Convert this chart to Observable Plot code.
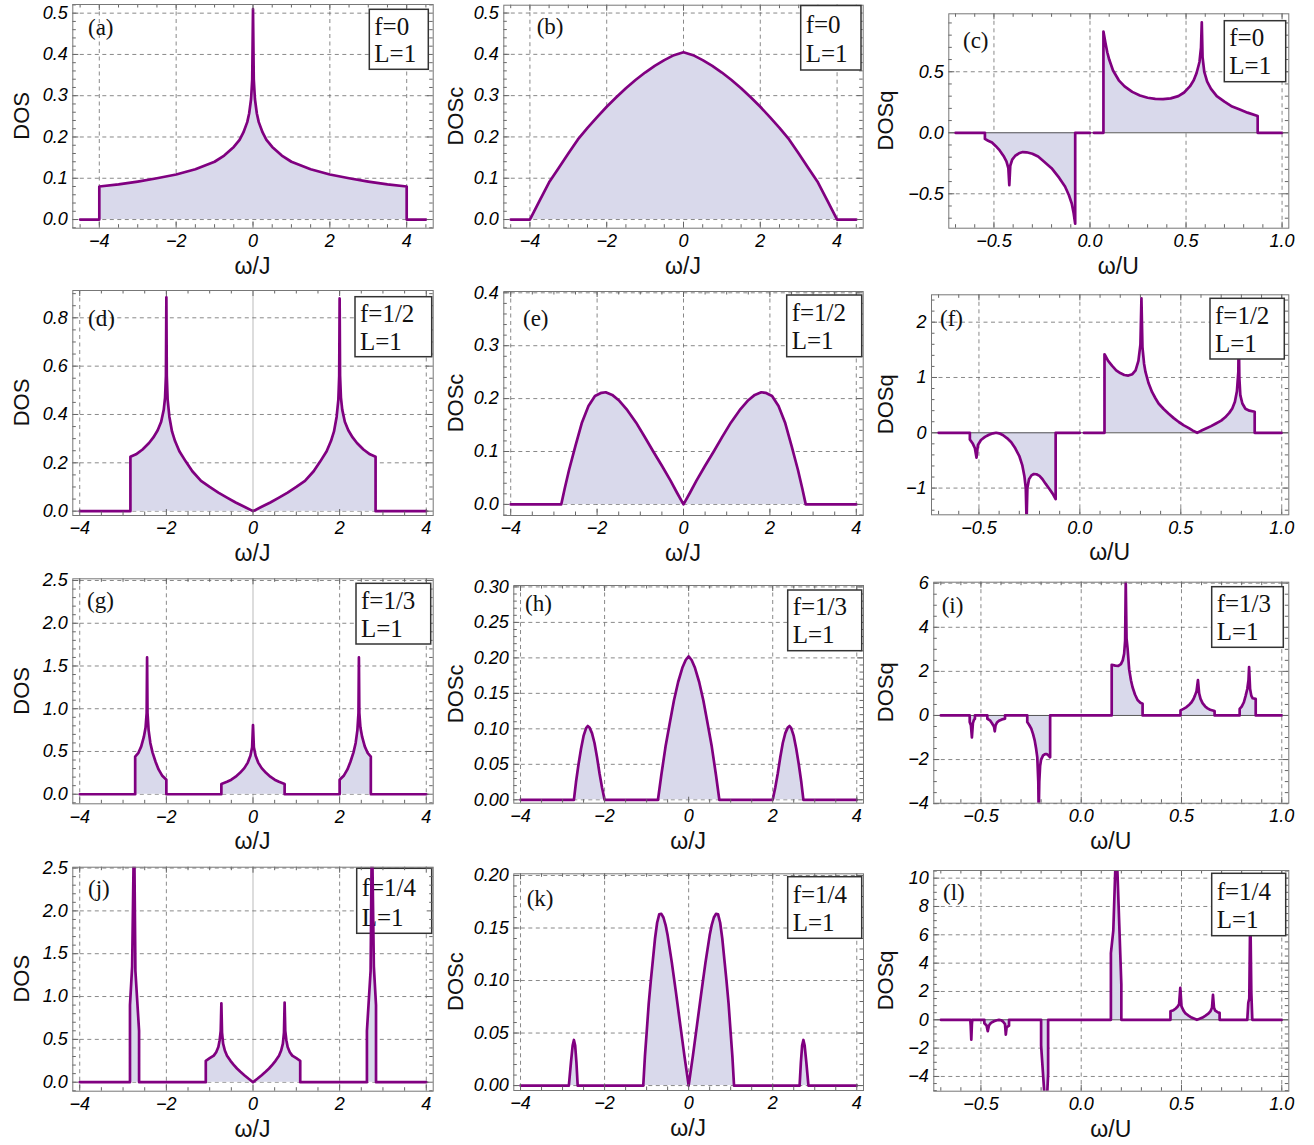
<!DOCTYPE html>
<html><head><meta charset="utf-8">
<script src="https://cdn.jsdelivr.net/npm/d3@7"></script>
<script src="https://cdn.jsdelivr.net/npm/@observablehq/plot@0.6"></script>
<style>
body{margin:0;background:#fff;}
#root{position:relative;width:1314px;height:1145px;background:#fff;overflow:hidden;}
#root svg{position:absolute;}
#root svg [aria-label$="tick label"] text{font-style:italic;fill:#000;}
</style></head><body><div id="root"></div>
<script>
// ---------- data: [omega, value] ----------
const dosA = [[-4.5,0],[-4,0],[-4,0.080],[-3.5,0.085],[-3,0.092],[-2.5,0.100],[-2,0.109],[-1.5,0.122],[-1,0.140],[-0.75,0.155],[-0.5,0.176],[-0.35,0.193],[-0.25,0.211],[-0.15,0.236],[-0.1,0.257],[-0.05,0.292],[-0.02,0.34],[0,0.51],[0.02,0.34],[0.05,0.292],[0.1,0.257],[0.15,0.236],[0.25,0.211],[0.35,0.193],[0.5,0.176],[0.75,0.155],[1,0.140],[1.5,0.122],[2,0.109],[2.5,0.100],[3,0.092],[3.5,0.085],[4,0.080],[4,0],[4.5,0]];
const dosB = [[-4.5,0],[-4,0],[-3.75,0.045],[-3.5,0.09],[-3.25,0.125],[-3,0.16],[-2.75,0.194],[-2.5,0.222],[-2.25,0.248],[-2,0.273],[-1.75,0.296],[-1.5,0.318],[-1.25,0.338],[-1,0.356],[-0.75,0.372],[-0.5,0.386],[-0.25,0.398],[0,0.405],[0.25,0.398],[0.5,0.386],[0.75,0.372],[1,0.356],[1.25,0.338],[1.5,0.318],[1.75,0.296],[2,0.273],[2.25,0.248],[2.5,0.222],[2.75,0.194],[3,0.16],[3.25,0.125],[3.5,0.09],[3.75,0.045],[4,0],[4.5,0]];
const dosC = [[-0.70,0],[-0.547,0],[-0.547,-0.05],[-0.53,-0.065],[-0.51,-0.08],[-0.49,-0.11],[-0.47,-0.145],[-0.45,-0.19],[-0.435,-0.235],[-0.425,-0.29],[-0.42,-0.43],[-0.415,-0.27],[-0.405,-0.22],[-0.39,-0.19],[-0.37,-0.168],[-0.35,-0.158],[-0.33,-0.16],[-0.30,-0.172],[-0.27,-0.195],[-0.24,-0.235],[-0.20,-0.29],[-0.16,-0.37],[-0.13,-0.44],[-0.11,-0.51],[-0.095,-0.58],[-0.085,-0.66],[-0.077,-0.745],[-0.077,0],[0,0],[0,NaN],[0.02,0],[0.07,0],[0.07,0.83],[0.08,0.74],[0.09,0.66],[0.10,0.6],[0.12,0.51],[0.15,0.43],[0.18,0.38],[0.22,0.335],[0.26,0.305],[0.30,0.287],[0.34,0.278],[0.38,0.276],[0.42,0.282],[0.46,0.3],[0.49,0.33],[0.52,0.38],[0.54,0.43],[0.555,0.49],[0.57,0.58],[0.578,0.7],[0.582,0.905],[0.586,0.62],[0.595,0.5],[0.61,0.42],[0.63,0.36],[0.66,0.3],[0.70,0.255],[0.74,0.215],[0.78,0.19],[0.82,0.165],[0.873,0.137],[0.873,0],[1.0,0]];
const dosD = [[-4,0],[-2.83,0],[-2.83,0.225],[-2.7,0.235],[-2.55,0.255],[-2.4,0.282],[-2.3,0.305],[-2.2,0.335],[-2.12,0.37],[-2.06,0.42],[-2.03,0.47],[-2.01,0.56],[-2,0.885],[-1.99,0.56],[-1.97,0.46],[-1.93,0.39],[-1.87,0.33],[-1.8,0.29],[-1.7,0.248],[-1.55,0.205],[-1.4,0.165],[-1.2,0.125],[-1,0.1],[-0.8,0.077],[-0.6,0.056],[-0.4,0.036],[-0.2,0.018],[0,0],[0.2,0.018],[0.4,0.036],[0.6,0.056],[0.8,0.077],[1,0.1],[1.2,0.125],[1.4,0.165],[1.55,0.205],[1.7,0.248],[1.8,0.29],[1.87,0.33],[1.93,0.39],[1.97,0.46],[1.99,0.56],[2,0.88],[2.01,0.56],[2.03,0.47],[2.06,0.42],[2.12,0.37],[2.2,0.335],[2.3,0.305],[2.4,0.282],[2.55,0.255],[2.7,0.235],[2.83,0.225],[2.83,0],[4,0]];
const dosE = [[-4,0],[-2.83,0],[-2.75,0.03],[-2.65,0.065],[-2.5,0.111],[-2.35,0.155],[-2.2,0.186],[-2.05,0.205],[-1.9,0.211],[-1.8,0.212],[-1.65,0.207],[-1.5,0.197],[-1.3,0.178],[-1.1,0.155],[-0.9,0.128],[-0.7,0.1],[-0.5,0.073],[-0.3,0.045],[-0.15,0.022],[0,0],[0.15,0.022],[0.3,0.045],[0.5,0.073],[0.7,0.1],[0.9,0.128],[1.1,0.155],[1.3,0.178],[1.5,0.197],[1.65,0.207],[1.8,0.212],[1.9,0.211],[2.05,0.205],[2.2,0.186],[2.35,0.155],[2.5,0.111],[2.65,0.065],[2.75,0.03],[2.83,0],[4,0]];
const dosF = [[-0.70,0],[-0.545,0],[-0.545,-0.12],[-0.53,-0.2],[-0.52,-0.28],[-0.512,-0.45],[-0.505,-0.22],[-0.49,-0.13],[-0.47,-0.075],[-0.45,-0.035],[-0.43,-0.01],[-0.415,0],[-0.40,-0.01],[-0.38,-0.045],[-0.36,-0.1],[-0.34,-0.17],[-0.32,-0.28],[-0.30,-0.42],[-0.285,-0.59],[-0.275,-0.78],[-0.268,-1.0],[-0.264,-1.6],[-0.26,-1.0],[-0.252,-0.84],[-0.24,-0.77],[-0.228,-0.745],[-0.215,-0.75],[-0.2,-0.78],[-0.185,-0.84],[-0.17,-0.92],[-0.15,-1.02],[-0.135,-1.1],[-0.12,-1.2],[-0.12,0],[0,0],[0,NaN],[0.02,0],[0.122,0],[0.122,1.42],[0.14,1.3],[0.16,1.21],[0.18,1.13],[0.2,1.08],[0.22,1.045],[0.24,1.035],[0.26,1.06],[0.276,1.13],[0.29,1.3],[0.3,1.6],[0.305,2.43],[0.31,1.55],[0.318,1.25],[0.325,1.1],[0.34,0.9],[0.358,0.735],[0.375,0.62],[0.39,0.53],[0.415,0.43],[0.44,0.345],[0.465,0.265],[0.49,0.195],[0.515,0.135],[0.54,0.084],[0.56,0.04],[0.581,0],[0.6,0.035],[0.622,0.072],[0.65,0.12],[0.672,0.163],[0.7,0.22],[0.72,0.28],[0.74,0.36],[0.755,0.44],[0.768,0.56],[0.778,0.75],[0.785,1.1],[0.787,1.9],[0.79,1.0],[0.795,0.675],[0.805,0.53],[0.82,0.434],[0.84,0.4],[0.866,0.38],[0.866,0],[1.0,0]];
const dosG = [[-4,0],[-2.72,0],[-2.72,0.44],[-2.65,0.48],[-2.58,0.56],[-2.52,0.67],[-2.48,0.78],[-2.455,0.95],[-2.445,1.6],[-2.435,0.95],[-2.41,0.75],[-2.37,0.6],[-2.32,0.49],[-2.25,0.38],[-2.18,0.29],[-2.1,0.22],[-2,0.17],[-2,0],[-0.73,0],[-0.73,0.12],[-0.6,0.145],[-0.5,0.17],[-0.4,0.205],[-0.3,0.25],[-0.2,0.305],[-0.12,0.37],[-0.06,0.45],[-0.02,0.55],[0,0.81],[0.02,0.55],[0.06,0.45],[0.12,0.37],[0.2,0.305],[0.3,0.25],[0.4,0.205],[0.5,0.17],[0.6,0.145],[0.73,0.12],[0.73,0],[2,0],[2,0.17],[2.1,0.22],[2.18,0.29],[2.25,0.38],[2.32,0.49],[2.37,0.6],[2.41,0.75],[2.435,0.95],[2.445,1.6],[2.455,0.95],[2.48,0.78],[2.52,0.67],[2.58,0.56],[2.65,0.48],[2.72,0.44],[2.72,0],[4,0]];
const dosH = [[-4,0],[-2.73,0],[-2.68,0.025],[-2.62,0.05],[-2.56,0.072],[-2.5,0.09],[-2.44,0.101],[-2.4,0.104],[-2.36,0.102],[-2.3,0.094],[-2.24,0.08],[-2.18,0.06],[-2.12,0.037],[-2.06,0.017],[-2,0],[-0.73,0],[-0.65,0.035],[-0.55,0.075],[-0.45,0.108],[-0.35,0.14],[-0.25,0.166],[-0.15,0.186],[-0.07,0.197],[0,0.202],[0.07,0.197],[0.15,0.186],[0.25,0.166],[0.35,0.14],[0.45,0.108],[0.55,0.075],[0.65,0.035],[0.73,0],[2,0],[2.06,0.017],[2.12,0.037],[2.18,0.06],[2.24,0.08],[2.3,0.094],[2.36,0.102],[2.4,0.104],[2.44,0.101],[2.5,0.09],[2.56,0.072],[2.62,0.05],[2.68,0.025],[2.73,0],[4,0]];
const dosI = [[-0.70,0],[-0.556,0],[-0.556,-0.3],[-0.55,-0.45],[-0.545,-1.0],[-0.54,-0.35],[-0.535,-0.2],[-0.53,-0.15],[-0.53,0],[-0.468,0],[-0.468,-0.15],[-0.455,-0.22],[-0.445,-0.35],[-0.435,-0.5],[-0.431,-0.72],[-0.427,-0.45],[-0.42,-0.32],[-0.41,-0.24],[-0.395,-0.18],[-0.38,-0.15],[-0.38,0],[-0.269,0],[-0.269,-0.3],[-0.26,-0.42],[-0.249,-0.6],[-0.24,-0.85],[-0.232,-1.13],[-0.225,-1.5],[-0.219,-1.9],[-0.214,-3],[-0.212,-4.5],[-0.209,-3],[-0.205,-2.3],[-0.2,-2.0],[-0.19,-1.81],[-0.18,-1.75],[-0.172,-1.75],[-0.163,-1.82],[-0.155,-1.9],[-0.155,0],[0.152,0],[0.152,2.3],[0.17,2.26],[0.185,2.25],[0.198,2.33],[0.207,2.5],[0.214,2.8],[0.219,3.4],[0.222,6.1],[0.226,3.5],[0.231,3.05],[0.239,2.1],[0.248,1.6],[0.256,1.28],[0.268,0.95],[0.281,0.7],[0.295,0.58],[0.306,0.53],[0.306,0],[0.495,0],[0.495,0.23],[0.51,0.3],[0.525,0.38],[0.54,0.5],[0.55,0.6],[0.56,0.75],[0.567,0.9],[0.575,1.1],[0.582,1.6],[0.588,1.0],[0.595,0.75],[0.605,0.56],[0.618,0.41],[0.63,0.32],[0.643,0.26],[0.665,0.2],[0.665,0],[0.79,0],[0.79,0.3],[0.8,0.4],[0.811,0.6],[0.82,0.9],[0.828,1.2],[0.834,1.6],[0.837,2.19],[0.842,1.2],[0.848,0.9],[0.855,0.78],[0.87,0.75],[0.87,0],[1.0,0]];
const dosJ = [[-4,0],[-2.84,0],[-2.84,0.9],[-2.79,1.35],[-2.745,3],[-2.715,1.3],[-2.63,0.6],[-2.63,0],[-1.09,0],[-1.09,0.25],[-1,0.28],[-0.906,0.31],[-0.85,0.35],[-0.8,0.41],[-0.77,0.49],[-0.745,0.6],[-0.73,0.92],[-0.715,0.58],[-0.69,0.45],[-0.65,0.37],[-0.6,0.31],[-0.52,0.25],[-0.45,0.205],[-0.37,0.16],[-0.29,0.122],[-0.2,0.082],[-0.1,0.04],[0,0],[0.1,0.04],[0.2,0.082],[0.29,0.122],[0.37,0.16],[0.45,0.205],[0.52,0.25],[0.6,0.31],[0.65,0.37],[0.69,0.45],[0.715,0.58],[0.73,0.93],[0.745,0.6],[0.77,0.49],[0.8,0.41],[0.85,0.35],[0.906,0.31],[1,0.28],[1.09,0.25],[1.09,0],[2.63,0],[2.63,0.6],[2.715,1.3],[2.745,3],[2.79,1.35],[2.84,0.9],[2.84,0],[4,0]];
const dosK = [[-4,0],[-2.85,0],[-2.8,0.022],[-2.76,0.038],[-2.73,0.0434],[-2.7,0.038],[-2.67,0.022],[-2.64,0],[-1.08,0],[-1.04,0.028],[-1,0.05],[-0.95,0.078],[-0.9,0.1],[-0.85,0.12],[-0.8,0.14],[-0.75,0.155],[-0.7,0.163],[-0.65,0.1635],[-0.6,0.16],[-0.55,0.153],[-0.5,0.143],[-0.4,0.117],[-0.3,0.088],[-0.2,0.058],[-0.1,0.028],[0,0],[0.1,0.028],[0.2,0.058],[0.3,0.088],[0.4,0.117],[0.5,0.143],[0.55,0.153],[0.6,0.16],[0.65,0.1635],[0.7,0.163],[0.75,0.155],[0.8,0.14],[0.85,0.12],[0.9,0.1],[0.95,0.078],[1,0.05],[1.04,0.028],[1.08,0],[2.64,0],[2.67,0.022],[2.7,0.038],[2.73,0.0434],[2.76,0.038],[2.8,0.022],[2.85,0],[4,0]];
const dosL = [[-0.70,0],[-0.553,0],[-0.551,-0.4],[-0.548,-1.4],[-0.545,-0.3],[-0.543,0],[-0.483,0],[-0.483,-0.25],[-0.472,-0.4],[-0.466,-0.8],[-0.46,-0.4],[-0.45,-0.22],[-0.435,-0.1],[-0.42,-0.03],[-0.41,0],[-0.4,-0.03],[-0.39,-0.12],[-0.38,-0.3],[-0.376,-1.05],[-0.372,-0.55],[-0.365,-0.45],[-0.36,-0.42],[-0.36,0],[-0.2,0],[-0.2,-1.8],[-0.18,-6.0],[-0.172,-6.0],[-0.165,-3.8],[-0.165,0],[0.148,0],[0.148,4.7],[0.16,6.3],[0.172,11.5],[0.178,11.5],[0.2,2.5],[0.2,0],[0.445,0],[0.445,0.6],[0.46,0.68],[0.47,0.78],[0.48,0.92],[0.488,1.1],[0.494,2.26],[0.5,0.95],[0.51,0.65],[0.52,0.45],[0.535,0.3],[0.55,0.16],[0.565,0.07],[0.577,0],[0.59,0.07],[0.605,0.16],[0.62,0.3],[0.635,0.45],[0.645,0.62],[0.652,0.85],[0.657,1.76],[0.662,0.85],[0.668,0.65],[0.68,0.54],[0.69,0.49],[0.69,0],[0.828,0],[0.833,1.2],[0.838,1.5],[0.843,8.0],[0.848,2.0],[0.853,0],[1.0,0]];

// ---------- tick values and labels ----------
const ticksJ = [-4, -2, 0, 2, 4];
const ticksU = [-0.5, 0, 0.5, 1.0];
const yTicksA = [0, 0.1, 0.2, 0.3, 0.4, 0.5];
const yTicksC = [-0.5, 0, 0.5];
const yTicksD = [0, 0.2, 0.4, 0.6, 0.8];
const yTicksE = [0, 0.1, 0.2, 0.3, 0.4];
const yTicksF = [-1, 0, 1, 2];
const yTicksG = [0, 0.5, 1.0, 1.5, 2.0, 2.5];
const yTicksH = [0, 0.05, 0.10, 0.15, 0.20, 0.25, 0.30];
const yTicksI = [-4, -2, 0, 2, 4, 6];
const yTicksK = [0, 0.05, 0.10, 0.15, 0.20];
const yTicksL = [-4, -2, 0, 2, 4, 6, 8, 10];
const yLabels = ["DOS", "DOSc", "DOSq"];
const xLabels = ["ω/J", "ω/J", "ω/U"];
const fLabels = ["f=0", "f=1/2", "f=1/3", "f=1/4"];
const lLabel = "L=1";
const letters = ["a","b","c","d","e","f","g","h","i","j","k","l"];

const f1 = d3.format(".1f"), f2 = d3.format(".2f"), fd = d3.format("d");
function minors(lo, hi, step, majors) {
  return d3.range(Math.round(lo/step), Math.round(hi/step) + 1).map(i => +(i*step).toFixed(4))
    .filter(v => !majors.some(m => Math.abs(m - v) < 1e-9));
}

// ---------- layout (page coordinates) ----------
const colSlice = [[0, 436], [436, 866], [866, 1300]];
const rowSlice = [[0, 282], [282, 568], [568, 853], [853, 1145]];
const yLabelX = [21, 455, 885];

const panels = [
  {data: dosA, frame:[72.3,4,432.7,227.7], xd:[-4.69,4.69], yd:[-0.021,0.521], xt:ticksJ, yt:yTicksA, xf:fd, yf:f1, ym:0.02, xm:0.5, q:false, let:[88,27], box:[369.3,9.3,428.3,69.3]},
  {data: dosB, frame:[503.3,4.7,862.7,227.7], xd:[-4.68,4.68], yd:[-0.021,0.519], xt:ticksJ, yt:yTicksA, xf:fd, yf:f1, ym:0.02, xm:0.5, q:false, let:[536.7,26], box:[800.7,5.5,861,70]},
  {data: dosC, frame:[948.3,13.3,1288.3,227.7], xd:[-0.735,1.035], yd:[-0.782,0.975], xt:ticksU, yt:yTicksC, xf:f1, yf:f1, ym:0.1, xm:0.1, q:true, let:[963,40], box:[1224.3,20.7,1285.7,81.7]},
  {data: dosD, frame:[72.3,290,432.7,515], xd:[-4.16,4.16], yd:[-0.018,0.913], xt:ticksJ, yt:yTicksD, xf:fd, yf:f1, ym:0.05, xm:0.5, q:false, let:[88,318], box:[355,296.7,431.7,356.7], axisLine:true},
  {data: dosE, frame:[503.3,291,862.7,515], xd:[-4.16,4.16], yd:[-0.021,0.4025], xt:ticksJ, yt:yTicksE, xf:fd, yf:f1, ym:0.02, xm:0.5, q:false, let:[523,318], box:[786.7,295,861.7,356.7]},
  {data: dosF, frame:[931,294.3,1288.3,514.3], xd:[-0.735,1.035], yd:[-1.483,2.495], xt:ticksU, yt:yTicksF, xf:f1, yf:fd, ym:0.2, xm:0.1, q:true, let:[940,318], box:[1210,298.3,1284.3,359]},
  {data: dosG, frame:[72.3,578.3,432.7,803.3], xd:[-4.16,4.16], yd:[-0.112,2.52], xt:ticksJ, yt:yTicksG, xf:fd, yf:f1, ym:0.1, xm:0.5, q:false, let:[87,600], box:[356,583.3,430.7,644], axisLine:true},
  {data: dosH, frame:[513.3,585,863,802.7], xd:[-4.16,4.16], yd:[-0.0048,0.302], xt:ticksJ, yt:yTicksH, xf:fd, yf:f2, ym:0.01, xm:0.5, q:false, let:[525,603], box:[787.7,590,861.7,650.7]},
  {data: dosI, frame:[933.3,581.7,1288.3,802.7], xd:[-0.735,1.035], yd:[-3.98,6.045], xt:ticksU, yt:yTicksI, xf:f1, yf:fd, ym:0.5, xm:0.1, q:true, let:[941.7,605], box:[1211.7,586.7,1283.3,647.3]},
  {data: dosJ, frame:[72.3,866.7,432.7,1090.7], xd:[-4.16,4.16], yd:[-0.105,2.51], xt:ticksJ, yt:yTicksG, xf:fd, yf:f1, ym:0.1, xm:0.5, q:false, let:[88,888], box:[356.7,868.3,431.7,933.3], lineOverBox:true, axisLine:true},
  {data: dosK, frame:[513.3,873.3,863,1090], xd:[-4.16,4.16], yd:[-0.0047,0.2016], xt:ticksJ, yt:yTicksK, xf:fd, yf:f2, ym:0.01, xm:0.5, q:false, let:[526.7,898], box:[787.7,876.7,861.7,938.3]},
  {data: dosL, frame:[933.3,870,1288.3,1090.7], xd:[-0.735,1.035], yd:[-5.04,10.54], xt:ticksU, yt:yTicksL, xf:f1, yf:fd, ym:0.5, xm:0.1, q:true, let:[943,892], box:[1211.7,873.3,1285.7,935.7]}
];

const root = document.getElementById("root");
const SANS = "'Liberation Sans', Arial, Helvetica, sans-serif";
const SERIF = "'Liberation Serif', 'Times New Roman', serif";
const PURPLE = "#800080", FILL = "#d9d9eb", TICK = "#666", GRID = "#5a5a5a";

panels.forEach((p, i) => {
  const row = Math.floor(i / 3), col = i % 3;
  const [sx0, sx1] = colSlice[col], [sy0, sy1] = rowSlice[row];
  const [fx0, fy0, fx1, fy1] = p.frame;
  const W = sx1 - sx0, H = sy1 - sy0, fw = fx1 - fx0, fh = fy1 - fy0;
  const data = p.data.map(([x, y]) => ({x, y}));
  const xMin = minors(p.xd[0], p.xd[1], p.xm, p.xt).filter(v => v > p.xd[0] && v < p.xd[1]);
  const yMin = minors(p.yd[0], p.yd[1], p.ym, p.yt).filter(v => v > p.yd[0] && v < p.yd[1]);
  const yGrid = p.q ? p.yt.filter(v => v !== 0) : p.yt;
  const xGrid = p.axisLine ? p.xt.filter(v => v !== 0) : p.xt;
  const svg = Plot.plot({
    width: W, height: H,
    marginLeft: fx0 - sx0, marginRight: sx1 - fx1, marginTop: fy0 - sy0, marginBottom: sy1 - fy1,
    style: {fontFamily: SANS, fontSize: "18px", fontStyle: "italic", background: "transparent", overflow: "visible", color: "#000"},
    x: {domain: p.xd},
    y: {domain: p.yd},
    marks: [
      ...(p.axisLine ? [Plot.ruleX([0], {stroke: "#bbb", strokeWidth: 1})] : []),
      Plot.gridX(xGrid, {stroke: GRID, strokeOpacity: 0.8, strokeDasharray: "4,3.5", strokeWidth: 0.9}),
      Plot.gridY(yGrid, {stroke: GRID, strokeOpacity: 0.8, strokeDasharray: "4,3.5", strokeWidth: 0.9}),
      Plot.areaY(data, {x: "x", y: "y", fill: FILL, clip: true}),
      ...(p.q ? [Plot.ruleY([0], {stroke: "#444", strokeWidth: 0.9})] : []),
      Plot.line(data, {x: "x", y: "y", stroke: PURPLE, strokeWidth: 2.7, clip: true, strokeLinejoin: "round"}),
      Plot.ruleX(p.xt, {stroke: TICK, insetTop: fh - 6}),
      Plot.ruleX(p.xt, {stroke: TICK, insetBottom: fh - 6}),
      Plot.ruleX(xMin, {stroke: TICK, insetTop: fh - 3.5}),
      Plot.ruleX(xMin, {stroke: TICK, insetBottom: fh - 3.5}),
      Plot.ruleY(p.yt, {stroke: TICK, insetRight: fw - 6}),
      Plot.ruleY(p.yt, {stroke: TICK, insetLeft: fw - 6}),
      Plot.ruleY(yMin, {stroke: TICK, insetRight: fw - 3.5}),
      Plot.ruleY(yMin, {stroke: TICK, insetLeft: fw - 3.5}),
      Plot.frame({stroke: "#777", strokeWidth: 1}),
      Plot.axisX(p.xt, {tickSize: 0, tickPadding: 6, tickFormat: p.xf, label: null, fontStyle: "italic"}),
      Plot.axisY(p.yt, {tickSize: 0, tickPadding: 5, tickFormat: p.yf, label: null, fontStyle: "italic"})
    ]
  });
  svg.style.left = sx0 + "px";
  svg.style.top = sy0 + "px";
  const s = d3.select(svg);

  // legend box (line drawn over it in panel j)
  const [bx0, by0, bx1, by1] = p.box;
  const bh = by1 - by0;
  const bg = p.lineOverBox ? s.insert("g", "g[aria-label='line']") : s.append("g");
  bg.attr("font-style", "normal");
  bg.append("rect").attr("x", bx0 - sx0).attr("y", by0 - sy0).attr("width", bx1 - bx0).attr("height", bh)
    .attr("fill", "#fff").attr("stroke", "#333").attr("stroke-width", 1.5);
  bg.append("text").attr("x", bx0 - sx0 + 5).attr("y", by0 - sy0 + bh * 0.42)
    .attr("font-family", SERIF).attr("font-size", 25).attr("text-anchor", "start").attr("fill", "#111").text(fLabels[row]);
  bg.append("text").attr("x", bx0 - sx0 + 5).attr("y", by0 - sy0 + bh * 0.88)
    .attr("font-family", SERIF).attr("font-size", 25).attr("text-anchor", "start").attr("fill", "#111").text(lLabel);

  const g = s.append("g").attr("font-style", "normal");
  g.append("text").attr("x", p.let[0] - sx0).attr("y", p.let[1] - sy0).attr("dy", "0.35em")
    .attr("font-family", SERIF).attr("font-size", 23).attr("text-anchor", "start").attr("fill", "#111").text(`(${letters[i]})`);
  g.append("text").attr("transform", `translate(${yLabelX[col] - sx0},${(fy0 + fy1) / 2 - sy0}) rotate(-90)`)
    .attr("dy", "0.35em").attr("font-family", SANS).attr("font-size", 22).attr("text-anchor", "middle").attr("fill", "#111").text(yLabels[col]);
  g.append("text").attr("x", (fx0 + fx1) / 2 - sx0).attr("y", fy1 + 38 - sy0).attr("dy", "0.35em")
    .attr("font-family", SANS).attr("font-size", 23).attr("text-anchor", "middle").attr("fill", "#111").text(xLabels[col]);
  root.appendChild(svg);
});
</script>
</body></html>
